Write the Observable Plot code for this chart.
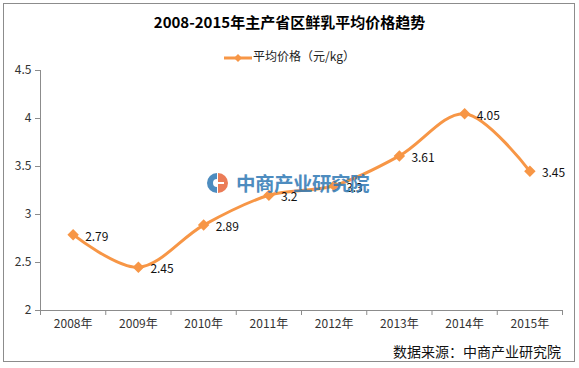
<!DOCTYPE html>
<html>
<head>
<meta charset="utf-8">
<script src="https://cdn.jsdelivr.net/npm/d3@7"></script>
<script src="https://cdn.jsdelivr.net/npm/@observablehq/plot@0.6"></script>
<style>
  html, body { margin: 0; padding: 0; background: #fff; }
  body { font-family: "Noto Sans CJK SC", "Noto Sans", sans-serif; }
  #wrap { position: relative; width: 579px; height: 368px; overflow: hidden; background: #fff; }
  #frame { position: absolute; left: 3px; top: 3px; width: 572px; height: 359px; border: 1px solid #8c8c8c; box-sizing: border-box; }
  #title { position: absolute; left: 0; width: 579px; top: 10px; text-align: center; font-size: 15px; font-weight: bold; color: #000; line-height: 24px; }
  #legend { position: absolute; left: 0; width: 579px; top: 47px; text-align: center; font-size: 12px; color: #222; line-height: 18px; }
  #legend svg { vertical-align: middle; margin-right: 1px; }
  #chart { position: absolute; left: 0; top: 60px; }
  #source { position: absolute; right: 18px; top: 340px; font-size: 14px; color: #111; line-height: 22px; }
  #wm { position: absolute; left: 205px; top: 171px; display: flex; align-items: center; opacity: 0.85; pointer-events: none; }
  #wm span { font-size: 19.5px; font-weight: bold; color: #2f78b4; letter-spacing: -0.5px; margin-left: 7px; line-height: 24px; }
</style>
</head>
<body>
<div id="wrap">
  <div id="frame"></div>
  <div id="title">2008-2015年主产省区鲜乳平均价格趋势</div>
  <div id="legend"><svg width="28" height="10"><line x1="0" y1="5" x2="28" y2="5" stroke="#f79646" stroke-width="3"/><path d="M14,1 L18,5 L14,9 L10,5 Z" fill="#f79646"/></svg>平均价格（元/kg）</div>
  <div id="chart"></div>
  <div id="wm"><svg width="24" height="24" viewBox="0 0 24 24"><path d="M12,2 A10,10 0 0 0 12,22 L12,16 A4,4 0 0 1 12,8 Z" fill="#2f78b4"/><path d="M13,2 A10,10 0 0 1 13,22 Z" fill="#e8663a"/><rect x="13" y="11" width="6" height="2" fill="#fff"/></svg><span>中商产业研究院</span></div>
  <div id="source">数据来源：中商产业研究院</div>
</div>
<script>
const years = ["2008年","2009年","2010年","2011年","2012年","2013年","2014年","2015年"];
const prices = [2.79, 2.45, 2.89, 3.2, 3.3, 3.61, 4.05, 3.45];
const yTicks = [2, 2.5, 3, 3.5, 4, 4.5];
const seriesName = "平均价格（元/kg）";

const data = years.map((y, i) => ({i, year: y, price: prices[i]}));
const color = "#f79646";
const axisColor = "#8c8c8c";
const boundaries = d3.range(years.length + 1).map(k => k - 0.5);

const chart = Plot.plot({
  width: 579,
  height: 280,
  marginLeft: 40,
  marginRight: 17,
  marginTop: 10,
  marginBottom: 30,
  style: {fontFamily: '"Noto Sans CJK SC", "Noto Sans", sans-serif', fontSize: "12px", color: "#333", background: "transparent"},
  x: {type: "linear", domain: [-0.5, years.length - 0.5], axis: null, label: null},
  y: {domain: [2, 4.5], axis: null, label: null},
  marks: [
    Plot.axisY({ticks: yTicks, tickSize: 5, tickPadding: 4, stroke: axisColor, tickFormat: d => String(d), fill: "#333", label: null}),
    Plot.axisX({ticks: boundaries, tickSize: 5, tickFormat: () => "", stroke: axisColor, label: null}),
    Plot.axisX({ticks: d3.range(years.length), tickSize: 0, tickPadding: 9, tickFormat: i => years[i], fill: "#333", label: null}),
    Plot.ruleX([-0.5], {stroke: axisColor}),
    Plot.ruleY([2], {stroke: axisColor}),
    Plot.line(data, {x: "i", y: "price", stroke: color, strokeWidth: 3, curve: "catmull-rom"}),
    Plot.dot(data, {x: "i", y: "price", symbol: "diamond2", r: 4.2, fill: color, stroke: color}),
    Plot.text(data, {x: "i", y: "price", text: d => String(d.price), textAnchor: "start", dx: 12, dy: 2, fill: "#111", fontSize: 12})
  ]
});
document.getElementById("chart").appendChild(chart);
</script>
</body>
</html>
